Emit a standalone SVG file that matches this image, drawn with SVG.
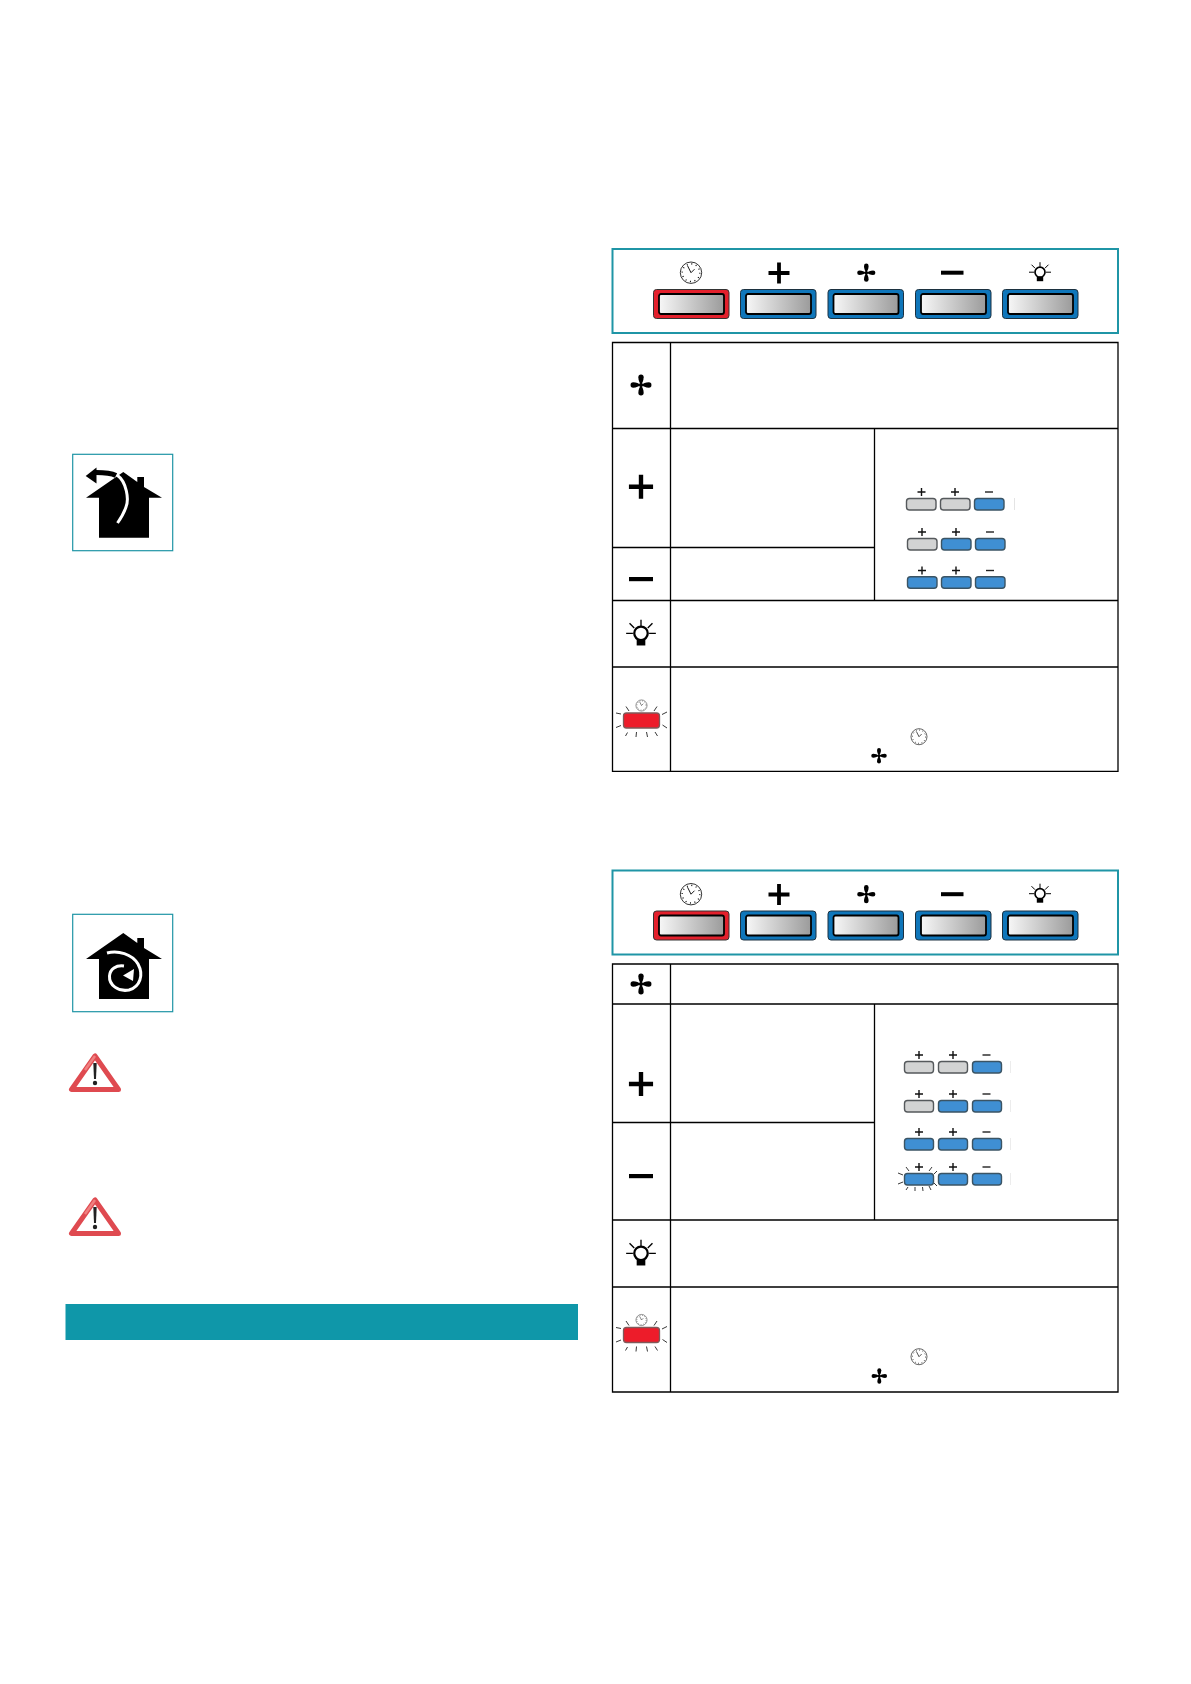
<svg xmlns="http://www.w3.org/2000/svg" xmlns:xlink="http://www.w3.org/1999/xlink" width="1191" height="1684" viewBox="0 0 1191 1684">
<style>
.line{stroke:#000;stroke-width:1.3;fill:none}
.teal{fill:none;stroke:#1f95a6;stroke-width:2}
.teal1{fill:none;stroke:#1f95a6;stroke-width:1.2}
.sg{fill:#d2d3d3;stroke:#55595c;stroke-width:1.4;stroke-dasharray:none}
.sb{fill:#3f8fd3;stroke:#3b5464;stroke-width:1.4}
.ray{stroke:#222;stroke-width:.9;fill:none}
</style>
<defs>
<linearGradient id="metal" x1="0" x2="1" y1="0" y2="0"><stop offset="0" stop-color="#f7f7f7"/><stop offset="1" stop-color="#9b9b9b"/></linearGradient>
<g id="btnRed"><rect x="0.5" y="0.5" width="75.500" height="29" rx="3" fill="#e3202c" stroke="#333" stroke-width="1"/><rect x="6" y="5" width="65" height="20" rx="2" fill="url(#metal)" stroke="#000" stroke-width="1.800"/></g>
<g id="btnBlue"><rect x="0.5" y="0.5" width="75.500" height="29" rx="3" fill="#0f76ba" stroke="#1c3140" stroke-width="1"/><rect x="6" y="5" width="65" height="20" rx="2" fill="url(#metal)" stroke="#000" stroke-width="1.800"/></g>
<g id="fan"><path id="petal" d="M0 0C-1.200-2-2.300-4-2.300-6.800A2.300 2.300 0 0 1 2.300-6.800C2.300-4 1.200-2 0 0Z" fill="#000"/><use xlink:href="#petal" href="#petal" transform="rotate(90)"/><use xlink:href="#petal" href="#petal" transform="rotate(180)"/><use xlink:href="#petal" href="#petal" transform="rotate(270)"/><circle r="1.800" fill="#000"/></g>
<g id="clock"><circle r="10.700" fill="#fff" stroke="#000" stroke-width=".8"/><circle r="8.800" fill="none" stroke="#000" stroke-width="1.300" stroke-dasharray="1 3.610"/><path d="M0 0L-3.500-7M0 0L3.500-3.500" stroke="#000" stroke-width=".9" fill="none"/></g>
<g id="bulb"><circle cy="-.5" r="5" fill="#fff" stroke="#000" stroke-width="1.700"/><rect x="-3.200" y="4" width="6.400" height="4.500" fill="#000"/><path d="M0-6V-10.500M-5-4.500L-8.500-8M5-4.500L8.500-8M-6-.5H-11M6-.5H11" stroke="#000" stroke-width="1"/></g>
<g id="flash"><rect x="-18" y="-7.500" width="36" height="15" rx="3" fill="#ed1c2a" stroke="#7f5a5a" stroke-width="1.300"/><path class="ray" d="M-15.500-14L-12.500-9.500M15.500-14L12.500-9.500M-25.500-7.500L-20.500-6.500M25.500-8.500L20.500-6M-25.500 7L-20.500 5M25.500 7.500L21 4.500M-16 15.500L-14 12M16 15.500L13.500 11.500M-5.500 16.500L-5 11.500M6 16.500L5 11.500"/><g transform="translate(0 -15) scale(.52)"><use xlink:href="#clock" href="#clock"/></g></g>
<g id="tri"><path d="M28 5L4.500 38.500H51.500Z" fill="#fff" stroke="#df4a50" stroke-width="5" stroke-linejoin="round"/><path d="M28 5L18 19" stroke="#f08080" stroke-width="2.500"/><path d="M26.300 12H29.700L29 28H27Z" fill="#222"/><circle cx="28" cy="32" r="2.200" fill="#222"/></g>
<g id="plus"><path d="M-10.500-1.900H-1.900V-10.500H1.900V-1.900H10.500V1.900H1.900V10.500H-1.900V1.900H-10.500Z" fill="#000"/></g>
<path id="smallplus" d="M-4-.7H-.7V-4H.7V-.7H4V.7H.7V4H-.7V.7H-4Z" fill="#111"/>
<path id="smallminus" d="M-4-.7H4V.7H-4Z" fill="#222"/>
</defs>

<g id="panel-top">
<rect class="teal" x="612.500" y="249" width="505.500" height="84"/>
<use xlink:href="#btnRed" href="#btnRed" x="653" y="289"/>
<use xlink:href="#btnBlue" href="#btnBlue" x="740" y="289"/>
<use xlink:href="#btnBlue" href="#btnBlue" x="827.500" y="289"/>
<use xlink:href="#btnBlue" href="#btnBlue" x="915" y="289"/>
<use xlink:href="#btnBlue" href="#btnBlue" x="1002" y="289"/>
<use xlink:href="#clock" href="#clock" x="691" y="272.700"/>
<use xlink:href="#plus" href="#plus" x="779" y="273"/>
<use xlink:href="#fan" href="#fan" x="866.300" y="272.700" />
<rect x="941" y="270.700" width="22.500" height="4" fill="#000"/>
<use xlink:href="#bulb" href="#bulb" x="1040" y="272.700"/>
</g>

<g id="table-top">
<path class="line" d="M612.500 342.500H1118V771.300H612.500ZM670.500 342.500V771.300M612.500 428.500H1118M612.500 547.500H874.500M612.500 600.500H1118M612.500 667H1118M874.500 428.500V600.500"/>
<g transform="translate(641 385) scale(1.150)"><use xlink:href="#fan" href="#fan"/></g>
<g transform="translate(641 486.700) scale(1.150)"><use xlink:href="#plus" href="#plus"/></g>
<rect x="629" y="577" width="24" height="4.200" fill="#000"/>
<g transform="translate(641 634) scale(1.350)"><use xlink:href="#bulb" href="#bulb"/></g>
<use xlink:href="#flash" href="#flash" x="641.500" y="720.500"/>
<g transform="translate(919 736.700) scale(.75)"><use xlink:href="#clock" href="#clock"/></g>
<g transform="translate(879 755.700) scale(.85)"><use xlink:href="#fan" href="#fan"/></g>
<g id="speeds-top">
<rect class="sg" x="906.500" y="498.500" width="29.500" height="11.500" rx="3"/><rect class="sg" x="940.500" y="498.500" width="29.500" height="11.500" rx="3"/><rect class="sb" x="974.500" y="498.500" width="29.500" height="11.500" rx="3"/>
<use xlink:href="#smallplus" href="#smallplus" x="921.500" y="492"/><use xlink:href="#smallplus" href="#smallplus" x="955" y="492"/><use xlink:href="#smallminus" href="#smallminus" x="989" y="492"/>
<rect class="sg" x="907.500" y="538.500" width="29.500" height="11.500" rx="3"/><rect class="sb" x="941.500" y="538.500" width="29.500" height="11.500" rx="3"/><rect class="sb" x="975.500" y="538.500" width="29.500" height="11.500" rx="3"/>
<use xlink:href="#smallplus" href="#smallplus" x="922" y="532"/><use xlink:href="#smallplus" href="#smallplus" x="956" y="532"/><use xlink:href="#smallminus" href="#smallminus" x="990" y="532"/>
<rect class="sb" x="907.500" y="576.700" width="29.500" height="11.500" rx="3"/><rect class="sb" x="941.500" y="576.700" width="29.500" height="11.500" rx="3"/><rect class="sb" x="975.500" y="576.700" width="29.500" height="11.500" rx="3"/>
<use xlink:href="#smallplus" href="#smallplus" x="922" y="570.500"/><use xlink:href="#smallplus" href="#smallplus" x="956" y="570.500"/><use xlink:href="#smallminus" href="#smallminus" x="990" y="570.500"/>
<path d="M1014.500 498V510" stroke="#e4e4e4" stroke-width="1"/>
</g>
</g>

<g id="house-exhaust">
<rect class="teal1" x="72.700" y="454.300" width="100" height="96.400"/>
<path d="M123.300 472L137.300 482V477H144V487L162 497.700H149V537.700H99V497.700H86Z" fill="#000"/>
<path d="M96 472.500C103 472.500 111 473 116 475.500" fill="none" stroke="#000" stroke-width="5"/>
<path d="M85.700 476L96.500 467.500V483.500Z" fill="#000"/>
<path d="M117 475C127 482 129 500 126 507C124 513 121 518 117.500 523" fill="none" stroke="#fff" stroke-width="3"/>
<path d="M98 476C104 476 111 475 115.500 478" fill="none" stroke="#fff" stroke-width="0"/>
</g>

<g id="house-recirc">
<rect class="teal1" x="72.700" y="914.300" width="100" height="97.400"/>
<path d="M123.300 933L137.300 943V938H144V948L162 959H149V999H99V959H86Z" fill="#000"/>
<path d="M107 953C118 950 132 954 138 964C144 975 140 987 129 990C118 992 109 985 109.500 976C110 969 116 965 124 966" fill="none" stroke="#fff" stroke-width="3"/>
<path d="M134 969L133 981L123 975.500Z" fill="#fff"/>
</g>

<g id="warning-1"><use xlink:href="#tri" href="#tri" x="67" y="1051"/></g>
<g id="warning-2"><use xlink:href="#tri" href="#tri" x="67" y="1195"/></g>
<rect id="bar" x="65.500" y="1304" width="512.500" height="36" fill="#0f97a9"/>

<g id="panel-bottom">
<rect class="teal" x="612.500" y="870.500" width="505.500" height="84"/>
<use xlink:href="#btnRed" href="#btnRed" x="653" y="910.500"/>
<use xlink:href="#btnBlue" href="#btnBlue" x="740" y="910.500"/>
<use xlink:href="#btnBlue" href="#btnBlue" x="827.500" y="910.500"/>
<use xlink:href="#btnBlue" href="#btnBlue" x="915" y="910.500"/>
<use xlink:href="#btnBlue" href="#btnBlue" x="1002" y="910.500"/>
<use xlink:href="#clock" href="#clock" x="691" y="894.200"/>
<use xlink:href="#plus" href="#plus" x="779" y="894.500"/>
<use xlink:href="#fan" href="#fan" x="866.300" y="894.200"/>
<rect x="941" y="892.200" width="22.500" height="4" fill="#000"/>
<use xlink:href="#bulb" href="#bulb" x="1040" y="894.200"/>
</g>

<g id="table-bottom">
<path class="line" d="M612.500 964H1118V1392H612.500ZM670.500 964V1392M612.500 1004H1118M612.500 1122.500H874.500M612.500 1220H1118M612.500 1287H1118M874.500 1004V1220"/>
<g transform="translate(641 984) scale(1.150)"><use xlink:href="#fan" href="#fan"/></g>
<g transform="translate(641 1084) scale(1.150)"><use xlink:href="#plus" href="#plus"/></g>
<rect x="629" y="1174" width="24" height="4.200" fill="#000"/>
<g transform="translate(641 1254) scale(1.350)"><use xlink:href="#bulb" href="#bulb"/></g>
<use xlink:href="#flash" href="#flash" x="641.500" y="1335"/>
<g transform="translate(919 1356.700) scale(.75)"><use xlink:href="#clock" href="#clock"/></g>
<g transform="translate(879.300 1376) scale(.85)"><use xlink:href="#fan" href="#fan"/></g>
<g id="speeds-bottom">
<rect class="sg" x="904.500" y="1061.500" width="29" height="11.500" rx="3"/><rect class="sg" x="938.500" y="1061.500" width="29" height="11.500" rx="3"/><rect class="sb" x="972.500" y="1061.500" width="29" height="11.500" rx="3"/>
<use xlink:href="#smallplus" href="#smallplus" x="919" y="1055"/><use xlink:href="#smallplus" href="#smallplus" x="953" y="1055"/><use xlink:href="#smallminus" href="#smallminus" x="986.500" y="1055"/>
<rect class="sg" x="904.500" y="1100.500" width="29" height="11.500" rx="3"/><rect class="sb" x="938.500" y="1100.500" width="29" height="11.500" rx="3"/><rect class="sb" x="972.500" y="1100.500" width="29" height="11.500" rx="3"/>
<use xlink:href="#smallplus" href="#smallplus" x="919" y="1094"/><use xlink:href="#smallplus" href="#smallplus" x="953" y="1094"/><use xlink:href="#smallminus" href="#smallminus" x="986.500" y="1094"/>
<rect class="sb" x="904.500" y="1138.500" width="29" height="11.500" rx="3"/><rect class="sb" x="938.500" y="1138.500" width="29" height="11.500" rx="3"/><rect class="sb" x="972.500" y="1138.500" width="29" height="11.500" rx="3"/>
<use xlink:href="#smallplus" href="#smallplus" x="919" y="1132"/><use xlink:href="#smallplus" href="#smallplus" x="953" y="1132"/><use xlink:href="#smallminus" href="#smallminus" x="986.500" y="1132"/>
<rect class="sb" x="904.500" y="1173.500" width="29" height="11.500" rx="3"/><rect class="sb" x="938.500" y="1173.500" width="29" height="11.500" rx="3"/><rect class="sb" x="972.500" y="1173.500" width="29" height="11.500" rx="3"/>
<use xlink:href="#smallplus" href="#smallplus" x="919" y="1167"/><use xlink:href="#smallplus" href="#smallplus" x="953" y="1167"/><use xlink:href="#smallminus" href="#smallminus" x="986.500" y="1167"/>
<path class="ray" d="M906 1167L909 1171M932 1167L929 1171M898 1173L903 1175M898 1184L903 1182M906 1190L908 1187M915 1191V1187M923 1191L922.500 1187M931 1190L929 1186M937 1186L934 1183M937 1171L934 1174"/>
<path d="M1010.500 1061V1073M1010.500 1100V1112M1010.500 1138V1150M1010.500 1173V1185" stroke="#ececec" stroke-width="1"/>
</g>
</g>
</svg>
